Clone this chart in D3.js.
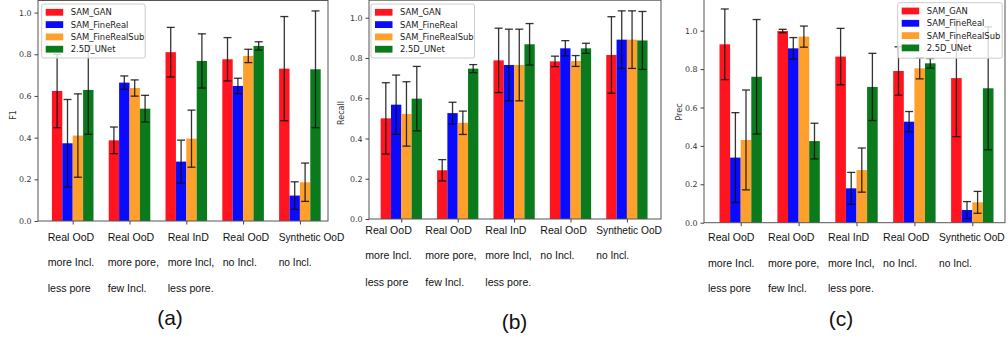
<!DOCTYPE html>
<html>
<head>
<meta charset="utf-8">
<script src="https://cdn.jsdelivr.net/npm/d3@7"></script>
<style>
  html, body { margin: 0; padding: 0; background: #fff; }
  svg { display: block; }
</style>
</head>
<body>
<svg id="chart" width="1008" height="341"></svg>
<script>
// groups on the x axis, three text lines each
const categoryLines = [
  ["Real OoD", "more Incl.", "less pore"],
  ["Real OoD", "more pore,", "few Incl."],
  ["Real InD", "more Incl,", "less pore."],
  ["Real OoD", "no Incl.", ""],
  ["Synthetic OoD", "no Incl.", ""]
];
const models = ["SAM_GAN", "SAM_FineReal", "SAM_FineRealSub", "2.5D_UNet"];
const yTicks = [0, 0.2, 0.4, 0.6, 0.8, 1.0];

// rows = models, columns = groups
const f1Mean = [
  [0.624, 0.387, 0.810, 0.776, 0.731],
  [0.373, 0.664, 0.285, 0.648, 0.122],
  [0.410, 0.638, 0.395, 0.792, 0.186],
  [0.629, 0.539, 0.768, 0.840, 0.728]
];
const f1Err = [
  [0.176, 0.064, 0.119, 0.104, 0.250],
  [0.210, 0.032, 0.103, 0.037, 0.066],
  [0.200, 0.039, 0.137, 0.032, 0.092],
  [0.213, 0.064, 0.130, 0.020, 0.280]
];
const recallMean = [
  [0.500, 0.242, 0.788, 0.783, 0.815],
  [0.568, 0.526, 0.765, 0.848, 0.891],
  [0.522, 0.478, 0.765, 0.785, 0.891],
  [0.598, 0.747, 0.868, 0.848, 0.887]
];
const recallErr = [
  [0.177, 0.053, 0.160, 0.026, 0.190],
  [0.147, 0.054, 0.178, 0.038, 0.143],
  [0.160, 0.058, 0.178, 0.027, 0.143],
  [0.160, 0.020, 0.103, 0.025, 0.144]
];
const precMean = [
  [0.929, 0.998, 0.865, 0.790, 0.753],
  [0.339, 0.908, 0.179, 0.526, 0.066],
  [0.431, 0.969, 0.274, 0.804, 0.106],
  [0.760, 0.425, 0.707, 0.830, 0.700]
];
const precErr = [
  [0.184, 0.009, 0.147, 0.126, 0.305],
  [0.234, 0.056, 0.083, 0.053, 0.044],
  [0.260, 0.055, 0.115, 0.055, 0.057],
  [0.298, 0.093, 0.175, 0.025, 0.320]
];

const colors = ["#ff1420", "#0a0aff", "#ffa02c", "#0a7a1c"];
const labelCols = [0, 60, 120, 175, 231];

// layout of each panel (pixels)
const panels = [
  { tag: "(a)", ylabel: "F1", mean: f1Mean, err: f1Err,
    left: 38, right: 328, top: 0.5, bottom: 221, yMax: 1.058,
    g0: 72.7, step: 56.8,
    legend: { x: 41.7, y: 4, w: 103.5, h: 54 },
    ylab: { x: 13, y: 115 },
    labelX: 47.7, labelY: [240.5, 265.5, 291.5], tagPos: { x: 170, y: 325 } },
  { tag: "(b)", ylabel: "Recall", mean: recallMean, err: recallErr,
    left: 369, right: 661, top: 0.2, bottom: 219, yMax: 1.087,
    g0: 401.3, step: 56.4,
    legend: { x: 371, y: 4, w: 103.5, h: 54 },
    ylab: { x: 341, y: 113 },
    labelX: 365.3, labelY: [233.8, 258.8, 285.5], tagPos: { x: 514.5, y: 329 } },
  { tag: "(c)", ylabel: "Prec", mean: precMean, err: precErr,
    left: 704, right: 1005, top: -1.4, bottom: 222.7, yMax: 1.167,
    g0: 740.7, step: 57.9,
    legend: { x: 897.7, y: 2.7, w: 104.5, h: 55.5 },
    ylab: { x: 679, y: 112 },
    labelX: 708, labelY: [241, 266.5, 292], tagPos: { x: 841, y: 326 } }
];

const svg = d3.select("#chart");
svg.append("rect").attr("width", 1008).attr("height", 341).attr("fill", "#fff");

panels.forEach(p => {
  const g = svg.append("g");

  const x = d3.scaleLinear().domain([0, 4]).range([p.g0, p.g0 + 4 * p.step]);
  const y = d3.scaleLinear().domain([0, p.yMax]).range([p.bottom, p.top]);
  const barW = p.step * 0.183;

  // bars
  models.forEach((m, mi) => {
    const vals = p.mean[mi].map((v, i) => ({ i, v, e: p.err[mi][i] }));
    g.selectAll(".bar" + mi)
      .data(vals)
      .enter()
      .append("rect")
        .attr("x", d => x(d.i) + (mi - 2) * barW)
        .attr("y", d => y(d.v))
        .attr("width", barW)
        .attr("height", d => y(0) - y(d.v))
        .attr("fill", colors[mi]);
  });

  // error bars
  models.forEach((m, mi) => {
    const vals = p.mean[mi].map((v, i) => ({ i, v, e: p.err[mi][i] }));
    const eg = g.selectAll(".err" + mi)
      .data(vals)
      .enter()
      .append("g")
        .attr("stroke", "#111")
        .attr("stroke-width", 1.3)
        .attr("stroke-opacity", 0.85);
    const cx = d => x(d.i) + (mi - 1.5) * barW;
    eg.append("line")
      .attr("x1", cx).attr("x2", cx)
      .attr("y1", d => y(d.v + d.e)).attr("y2", d => y(d.v - d.e));
    eg.append("line")
      .attr("x1", d => cx(d) - 4).attr("x2", d => cx(d) + 4)
      .attr("y1", d => y(d.v + d.e)).attr("y2", d => y(d.v + d.e));
    eg.append("line")
      .attr("x1", d => cx(d) - 4).attr("x2", d => cx(d) + 4)
      .attr("y1", d => y(d.v - d.e)).attr("y2", d => y(d.v - d.e));
  });

  // frame
  g.append("rect")
    .attr("x", p.left).attr("y", p.top)
    .attr("width", p.right - p.left).attr("height", p.bottom - p.top)
    .attr("fill", "none").attr("stroke", "#555").attr("stroke-width", 1);

  // y axis
  const yAxis = g.append("g")
    .attr("transform", `translate(${p.left},0)`)
    .call(d3.axisLeft(y).tickValues(yTicks).tickFormat(d3.format(".1f")).tickSize(3.5).tickPadding(3));
  yAxis.select(".domain").remove();
  yAxis.selectAll("line").attr("stroke", "#444");
  yAxis.selectAll("text")
    .attr("font-family", "DejaVu Sans")
    .attr("font-size", 7.9)
    .attr("fill", "#333");

  // x ticks (no labels)
  const xAxis = g.append("g")
    .attr("transform", `translate(0,${p.bottom})`)
    .call(d3.axisBottom(x).tickValues([0, 1, 2, 3, 4]).tickFormat("").tickSize(3.5));
  xAxis.select(".domain").remove();
  xAxis.selectAll("line").attr("stroke", "#444");

  // y label
  g.append("text")
    .attr("transform", `translate(${p.ylab.x},${p.ylab.y}) rotate(-90)`)
    .attr("text-anchor", "middle")
    .attr("dominant-baseline", "central")
    .attr("font-family", "DejaVu Sans")
    .attr("font-size", 8)
    .attr("fill", "#333")
    .text(p.ylabel);

  // legend
  const lg = g.append("g").attr("transform", `translate(${p.legend.x},${p.legend.y})`);
  lg.append("rect")
    .attr("width", p.legend.w).attr("height", p.legend.h)
    .attr("rx", 2)
    .attr("fill", "#fff").attr("fill-opacity", 0.8)
    .attr("stroke", "#cccccc").attr("stroke-width", 1);
  const items = lg.selectAll(".item")
    .data(models)
    .enter()
    .append("g")
      .attr("transform", (d, i) => `translate(4,${8.3 + i * 12.3})`);
  items.append("rect")
    .attr("x", 0).attr("y", -3.4)
    .attr("width", 17.5).attr("height", 6.8)
    .attr("fill", (d, i) => colors[i]);
  items.append("text")
    .attr("x", 25).attr("y", 0)
    .attr("dominant-baseline", "central")
    .attr("font-family", "DejaVu Sans")
    .attr("font-size", 8.4)
    .attr("fill", "#1a1a1a")
    .text(d => d);

  // category text block under the axis
  categoryLines.forEach((lines, ci) => {
    lines.forEach((t, li) => {
      if (!t) return;
      g.append("text")
        .attr("x", p.labelX + labelCols[ci])
        .attr("y", p.labelY[li])
        .attr("font-family", "Liberation Sans, Arial, sans-serif")
        .attr("font-size", ci === 4 ? 10.2 : 10.6)
        .attr("fill", "#111")
        .text(t);
    });
  });

  // panel tag
  g.append("text")
    .attr("x", p.tagPos.x).attr("y", p.tagPos.y)
    .attr("text-anchor", "middle")
    .attr("font-family", "Liberation Sans, Arial, sans-serif")
    .attr("font-size", 21)
    .attr("fill", "#111")
    .text(p.tag);
});
</script>
</body>
</html>
